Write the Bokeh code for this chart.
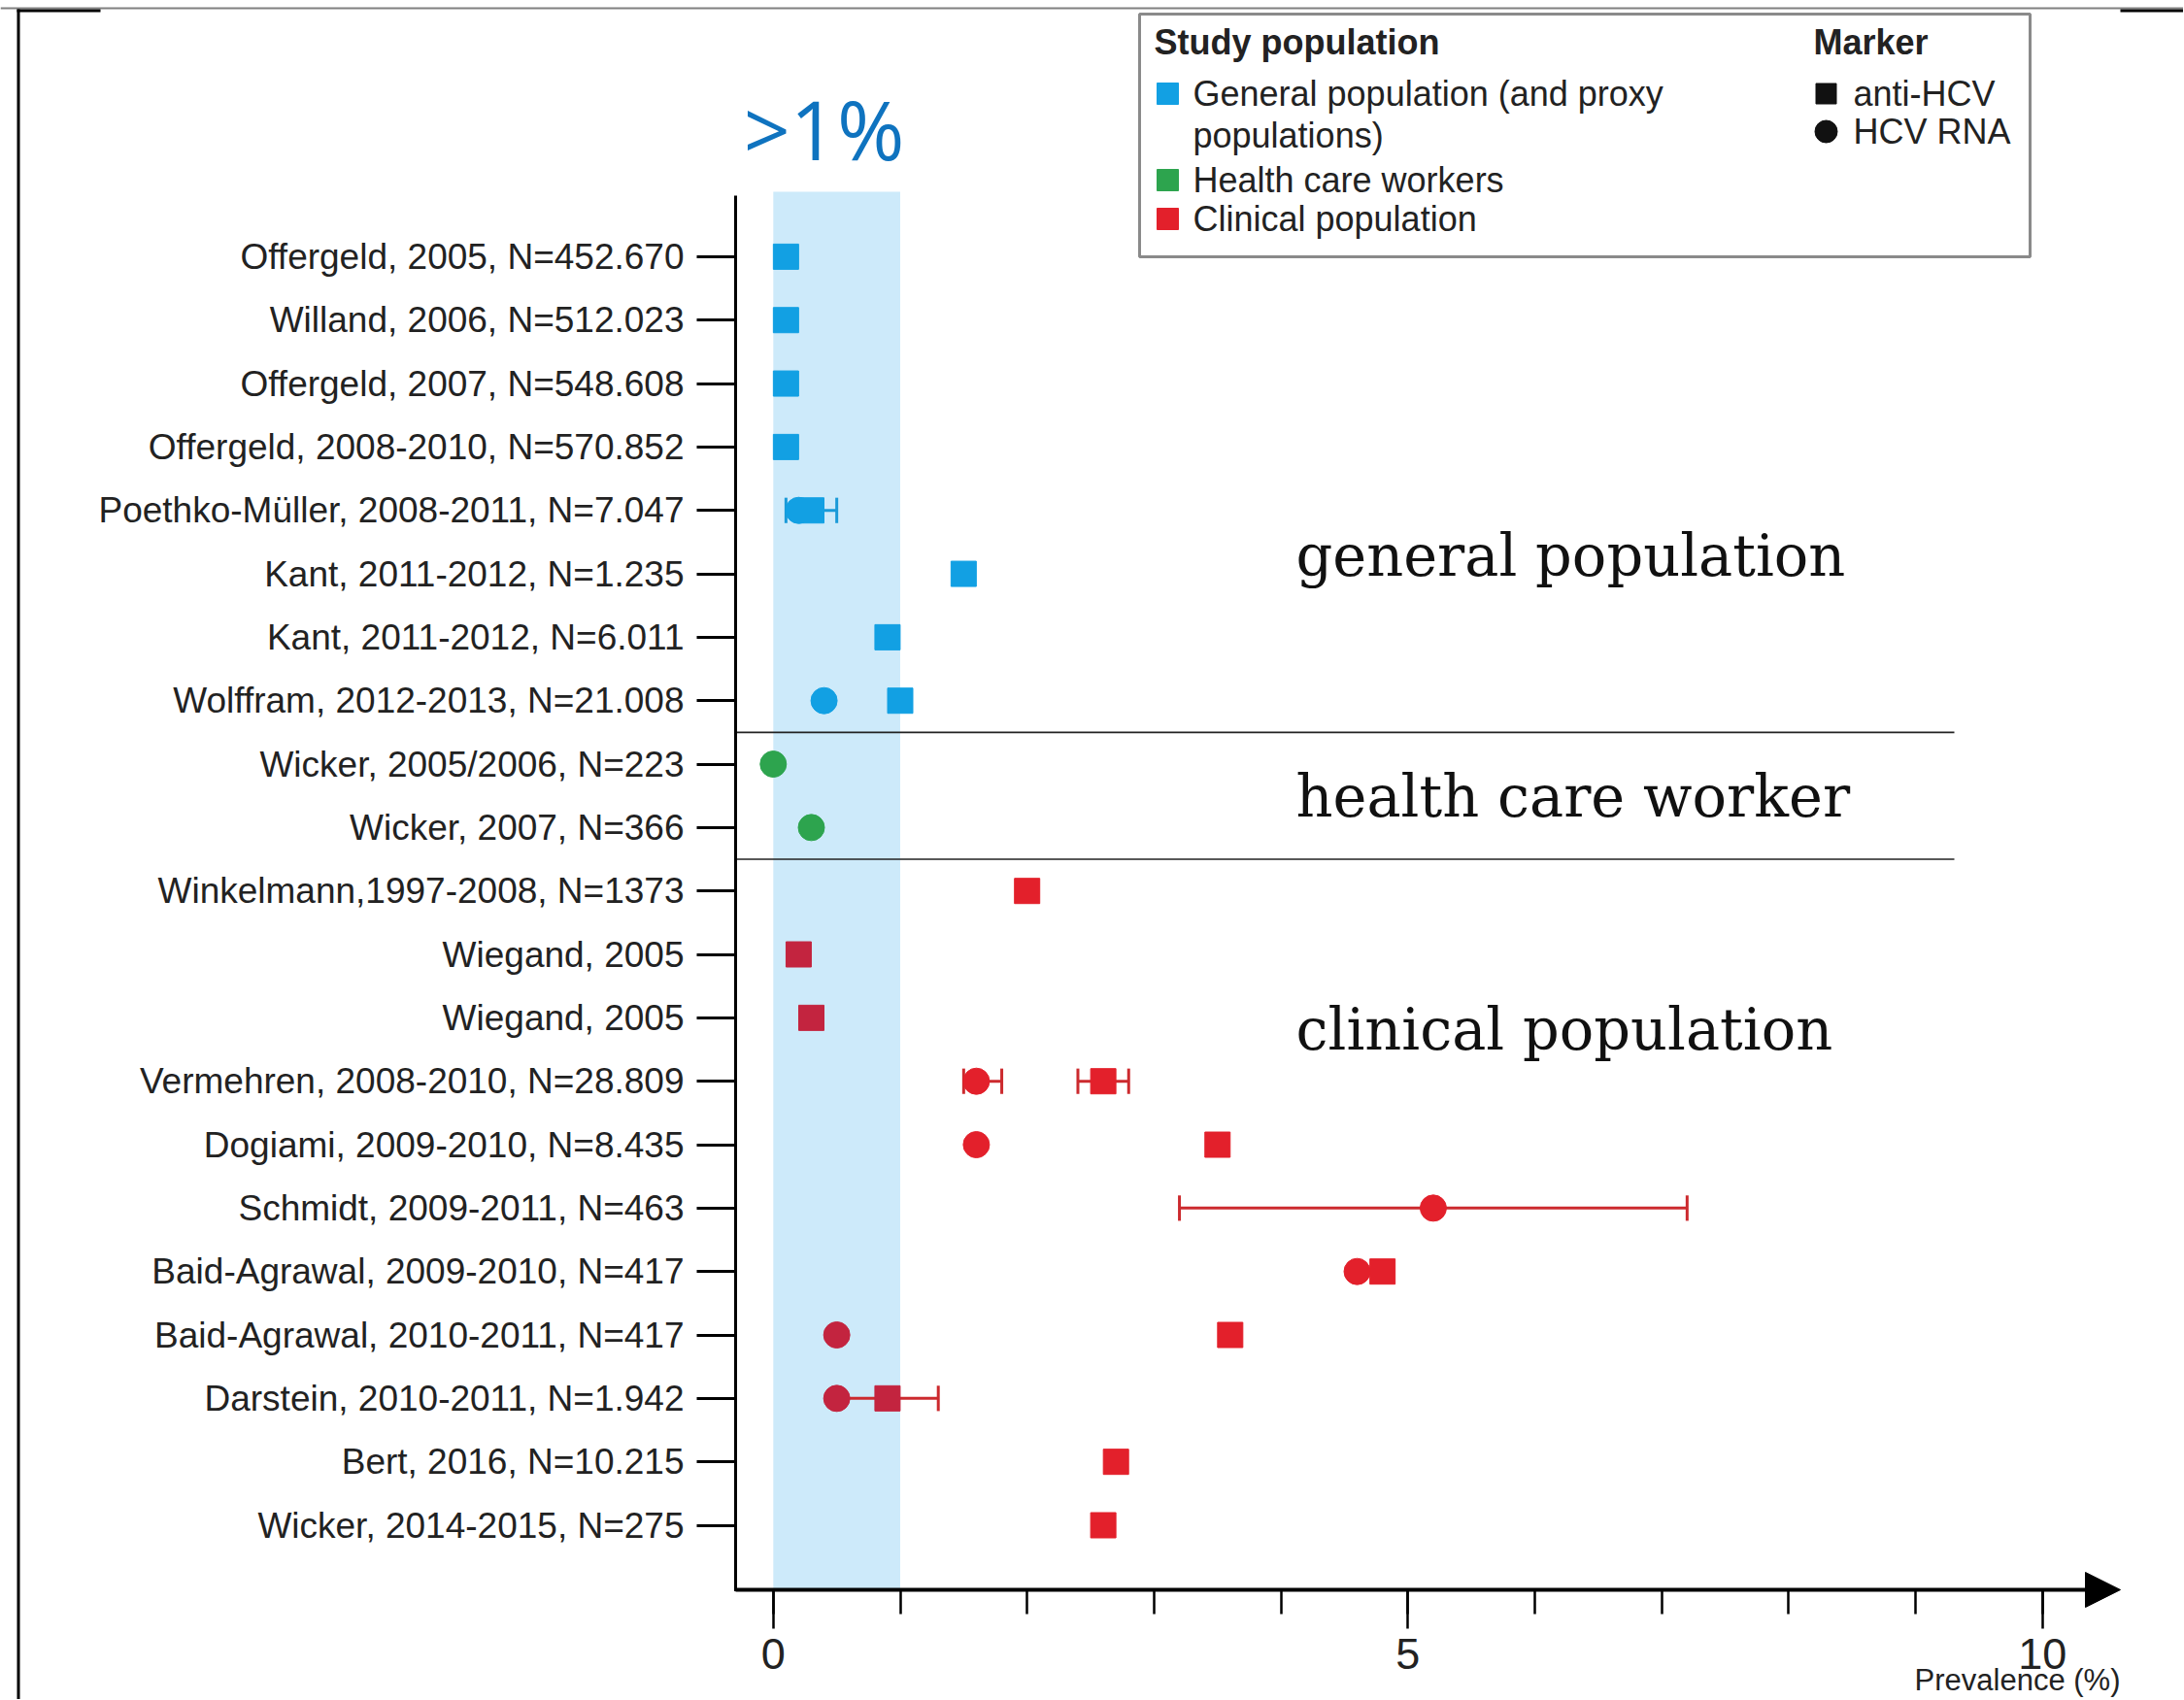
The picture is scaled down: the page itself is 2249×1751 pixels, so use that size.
import math
from bokeh.plotting import figure
from bokeh.models import (Range1d, LinearAxis, FixedTicker, ColumnDataSource, Label,
                          Arrow, NormalHead)
from bokeh.embed import file_html
from bokeh.resources import INLINE

# ---------------- data ----------------
studies = [
    "Offergeld, 2005, N=452.670",
    "Willand, 2006, N=512.023",
    "Offergeld, 2007, N=548.608",
    "Offergeld, 2008-2010, N=570.852",
    "Poethko-Müller, 2008-2011, N=7.047",
    "Kant, 2011-2012, N=1.235",
    "Kant, 2011-2012, N=6.011",
    "Wolffram, 2012-2013, N=21.008",
    "Wicker, 2005/2006, N=223",
    "Wicker, 2007, N=366",
    "Winkelmann,1997-2008, N=1373",
    "Wiegand, 2005",
    "Wiegand, 2005",
    "Vermehren, 2008-2010, N=28.809",
    "Dogiami, 2009-2010, N=8.435",
    "Schmidt, 2009-2011, N=463",
    "Baid-Agrawal, 2009-2010, N=417",
    "Baid-Agrawal, 2010-2011, N=417",
    "Darstein, 2010-2011, N=1.942",
    "Bert, 2016, N=10.215",
    "Wicker, 2014-2015, N=275",
]
groups = ["general"] * 8 + ["hcw"] * 2 + ["clinical"] * 11

# anti-HCV prevalence (%) -> square marker
anti_hcv = [0.1, 0.1, 0.1, 0.1, 0.3, 1.5, 0.9, 1.0, None, None,
            2.0, 0.2, 0.3, 2.6, 3.5, None, 4.8, 3.6, 0.9, 2.7, 2.6]
anti_lo = [None, None, None, None, 0.1, None, None, None, None, None,
           None, None, None, 2.4, None, None, None, None, 0.5, None, None]
anti_hi = [None, None, None, None, 0.5, None, None, None, None, None,
           None, None, None, 2.8, None, None, None, None, 1.3, None, None]

# HCV RNA prevalence (%) -> circle marker
hcv_rna = [None, None, None, None, 0.2, None, None, 0.4, 0.0, 0.3,
           None, None, None, 1.6, 1.6, 5.2, 4.6, 0.5, 0.5, None, None]
rna_lo = [None] * 13 + [1.5, None, 3.2, None, None, None, None, None]
rna_hi = [None] * 13 + [1.8, None, 7.2, None, None, None, None, None]

band_range = [0, 1]
x_major_ticks = [0, 5, 10]
x_minor_ticks = list(range(0, 11))

legend_groups = ["General population (and proxy", "Health care workers", "Clinical population"]
section_labels = ["general population", "health care worker", "clinical population"]

# ---------------- styling / geometry ----------------
W, H = 2248, 1750
PAGE = 0
X0_PX, PX_PER_X = 795.8, 130.7      # page pixel of x=0, pixels per 1 %
Y1_PX, PX_PER_ROW = 263.9, 65.33    # page pixel of row 1, pixels per row


def dx(px):
    return (px - X0_PX) / PX_PER_X


def dy(py):
    return 1 + (py - Y1_PX) / PX_PER_ROW


def base(py, size):
    # Bokeh places an "alphabetic" label about 0.39 em lower than asked
    return dy(py - 0.39 * size)


COL = {"general": "#12a0e3", "hcw": "#2da44e", "clinical": "#e3202b"}
COL_IN_BAND = {"general": "#12a0e3", "hcw": "#2da44e", "clinical": "#c3243f"}
ERR = {"general": "#1a9ad8", "hcw": "#2da44e", "clinical": "#cc2a2e"}
TXT = "#222222"
SANS = "Liberation Sans"

p = figure(width=W, height=H,
           x_range=Range1d(dx(PAGE), dx(PAGE + W)),
           y_range=Range1d(dy(PAGE + H), dy(PAGE)),
           output_backend="svg", toolbar_location=None,
           x_axis_location=None, y_axis_location=None,
           min_border=0, min_border_left=0, min_border_right=0,
           min_border_top=0, min_border_bottom=0)
p.outline_line_color = None
p.xgrid.visible = False
p.ygrid.visible = False
p.background_fill_color = "white"
p.border_fill_color = "white"

rows = list(range(1, len(studies) + 1))
axis_x = dx(757)
axis_y = dy(1637)

# screenshot frame decorations
p.segment(x0=[dx(0)], x1=[dx(W)], y0=[dy(8)], y1=[dy(8)],
          line_color="#808080", line_width=2)
p.segment(x0=[dx(17), dx(2183)], x1=[dx(103), dx(W)],
          y0=[dy(10.5), dy(10.5)], y1=[dy(10.5), dy(10.5)],
          line_color="black", line_width=3)
p.segment(x0=[dx(18.5)], x1=[dx(18.5)], y0=[dy(9)], y1=[dy(H)],
          line_color="black", line_width=3)

# >1% band
p.quad(left=[band_range[0]], right=[band_range[1]], top=[dy(197)], bottom=[axis_y],
       fill_color="#cdeafa", line_color=None)
p.add_layout(Label(x=(band_range[0] + band_range[1]) / 2 - 0.1, y=base(165, 84), text=">1%",
                   text_font="Open Sans", text_font_size="84px", text_color="#0f73bf",
                   text_align="center", text_baseline="alphabetic"))

# group separator lines
sep_y = [i + 1.5 for i in range(len(groups) - 1) if groups[i] != groups[i + 1]]
p.segment(x0=[axis_x] * len(sep_y), x1=[dx(2012)] * len(sep_y), y0=sep_y, y1=sep_y,
          line_color="#222222", line_width=1.6)

# section labels
for txt, b in zip(section_labels, [595, 843, 1083]):
    p.add_layout(Label(x=dx(1334), y=base(b, 59), text=txt, text_font="DejaVu Serif",
                       text_font_size="59px", text_color="#111111",
                       text_baseline="alphabetic"))

# error bars
ex0, ex1, ey, ec = [], [], [], []
cx, cy0, cy1, cc = [], [], [], []
for lo_l, hi_l in ((anti_lo, anti_hi), (rna_lo, rna_hi)):
    for r, lo, hi, g in zip(rows, lo_l, hi_l, groups):
        if lo is None:
            continue
        ex0.append(lo); ex1.append(hi); ey.append(r); ec.append(ERR[g])
        for v in (lo, hi):
            cx.append(v); cy0.append(r - 0.2); cy1.append(r + 0.2); cc.append(ERR[g])
p.segment(x0=ex0, x1=ex1, y0=ey, y1=ey, line_color=ec, line_width=3)
p.segment(x0=cx, x1=cx, y0=cy0, y1=cy1, line_color=cc, line_width=3)


def colour(g, v):
    return COL_IN_BAND[g] if band_range[0] <= v <= band_range[1] else COL[g]


# HCV RNA circles
cs = dict(x=[], y=[], c=[])
for r, v, g in zip(rows, hcv_rna, groups):
    if v is not None:
        cs["x"].append(v); cs["y"].append(r); cs["c"].append(colour(g, v))
p.scatter("x", "y", source=ColumnDataSource(cs), marker="circle", size=27,
          fill_color="c", line_color="c")

# anti-HCV squares
ss = dict(x=[], y=[], c=[])
for r, v, g in zip(rows, anti_hcv, groups):
    if v is not None:
        ss["x"].append(v); ss["y"].append(r); ss["c"].append(colour(g, v))
p.scatter("x", "y", source=ColumnDataSource(ss), marker="square", size=26,
          fill_color="c", line_color="c")

# y axis (fixed at the left edge of the data area)
p.segment(x0=[axis_x], x1=[axis_x], y0=[dy(201)], y1=[dy(1638.5)],
          line_color="black", line_width=3)
yaxis = LinearAxis(fixed_location=axis_x,
                   ticker=FixedTicker(ticks=rows),
                   major_label_overrides={r: s for r, s in zip(rows, studies)},
                   axis_line_color=None,
                   major_tick_out=40, major_tick_in=0,
                   major_tick_line_width=3, major_tick_line_color="black",
                   minor_tick_line_color=None,
                   major_label_standoff=13,
                   major_label_text_font=SANS, major_label_text_font_size="37px",
                   major_label_text_color=TXT)
p.add_layout(yaxis, "left")

# x axis
xaxis = LinearAxis(fixed_location=axis_y,
                   ticker=FixedTicker(ticks=x_major_ticks, minor_ticks=x_minor_ticks),
                   axis_line_color=None,
                   major_tick_out=40, major_tick_in=0,
                   minor_tick_out=25, minor_tick_in=0,
                   major_tick_line_width=2.5, minor_tick_line_width=2.5,
                   major_tick_line_color="black", minor_tick_line_color="black",
                   major_label_standoff=10,
                   major_label_text_font=SANS, major_label_text_font_size="45px",
                   major_label_text_color=TXT)
p.add_layout(xaxis, "below")
p.add_layout(Arrow(x_start=axis_x, y_start=axis_y, x_end=dx(2183), y_end=axis_y,
                   line_width=4, line_color="black",
                   end=NormalHead(size=36, fill_color="black", line_color="black")))
p.add_layout(Label(x=dx(2183), y=base(1742, 31), text="Prevalence (%)", text_font=SANS,
                   text_font_size="31px", text_color=TXT, text_align="right",
                   text_baseline="alphabetic"))

# legend
p.quad(left=[dx(1173)], right=[dx(2090)], top=[dy(14)], bottom=[dy(264)],
       fill_color="white", line_color="#8a8a8a", line_width=3)
p.add_layout(Label(x=dx(1188), y=dy(43), text="Study population", text_font=SANS,
                   text_font_size="36px", text_font_style="bold", text_color=TXT,
                   text_baseline="middle"))
p.add_layout(Label(x=dx(1867), y=dy(43), text="Marker", text_font=SANS,
                   text_font_size="36px", text_font_style="bold", text_color=TXT,
                   text_baseline="middle"))
leg_y = [96, 185, 225]
p.scatter(x=[dx(1202)] * 3, y=[dy(v) for v in leg_y], marker="square", size=22,
          fill_color=[COL["general"], COL["hcw"], COL["clinical"]],
          line_color=[COL["general"], COL["hcw"], COL["clinical"]])
for txt, yy in zip(legend_groups + ["populations)"], leg_y + [139]):
    p.add_layout(Label(x=dx(1228), y=dy(yy), text=txt, text_font=SANS,
                       text_font_size="36px", text_color=TXT, text_baseline="middle"))
p.scatter(x=[dx(1880)], y=[dy(96)], marker="square", size=21, color="#111111")
p.scatter(x=[dx(1880)], y=[dy(135)], marker="circle", size=23, color="#111111")
p.add_layout(Label(x=dx(1908), y=dy(96), text="anti-HCV", text_font=SANS,
                   text_font_size="36px", text_color=TXT, text_baseline="middle"))
p.add_layout(Label(x=dx(1908), y=dy(135), text="HCV RNA", text_font=SANS,
                   text_font_size="36px", text_color=TXT, text_baseline="middle"))

open("out.html", "w").write(file_html(p, INLINE))
